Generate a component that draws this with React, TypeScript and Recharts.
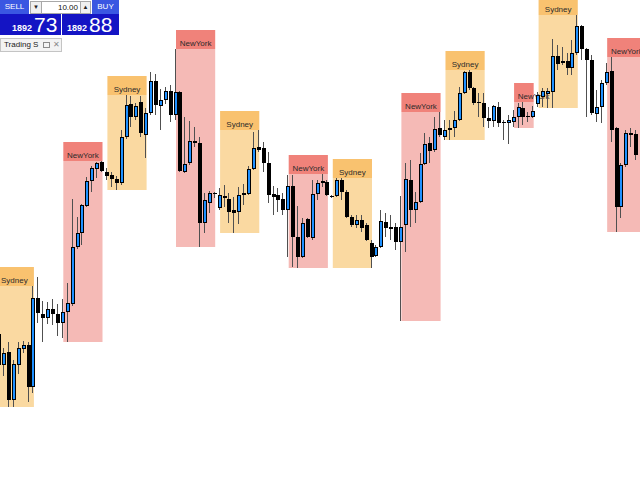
import React from "react";
import { Bar, ComposedChart, ReferenceArea, XAxis, YAxis } from "recharts";

// price levels read off the picture, measured down from the top of the pane
// (the y axis is reversed, so a smaller number is a higher price)
const open = [
  334, 365, 352, 400, 365, 349, 345, 387, 298, 314, 318, 309, 314, 323, 312, 304, 247, 233, 206, 181,
  169, 162, 172, 175, 179, 183, 137, 104, 117, 102, 135, 113, 81, 106, 100, 91, 115, 92, 172, 163,
  141, 143, 223, 203, 193, 208, 196, 199, 210, 212, 195, 194, 169, 147, 148, 163, 194, 195, 199, 210,
  186, 237, 257, 219, 238, 194, 183, 182, 197, 196, 180, 192, 217, 225, 220, 225, 243, 256, 247, 222,
  229, 227, 242, 225, 180, 210, 202, 164, 143, 150, 128, 137, 128, 128, 120, 93, 72, 88, 102, 103,
  118, 121, 107, 123, 123, 122, 117, 108, 116, 117, 104, 97, 94, 92, 56, 63, 61, 68, 53, 26,
  49, 60, 114, 107, 83, 71, 128, 207, 165, 133, 134,
];
const high = [
  328, 348, 342, 360, 342, 341, 342, 286, 277, 301, 302, 299, 304, 299, 283, 199, 217, 204, 177, 166,
  162, 161, 168, 172, 176, 130, 95, 96, 103, 96, 108, 72, 74, 89, 87, 85, 49, 91, 117, 121,
  127, 137, 193, 191, 192, 188, 185, 193, 197, 187, 184, 166, 132, 130, 142, 152, 186, 188, 193, 175,
  175, 206, 218, 218, 180, 180, 174, 180, 195, 178, 178, 190, 215, 215, 215, 223, 240, 245, 210, 213,
  215, 223, 196, 163, 160, 192, 153, 133, 137, 117, 112, 120, 120, 111, 87, 71, 70, 87, 93, 93,
  107, 105, 102, 120, 115, 110, 103, 102, 112, 106, 92, 88, 88, 39, 45, 47, 53, 40, 15, 25,
  48, 55, 90, 80, 63, 57, 127, 163, 130, 128, 130,
];
const low = [
  372, 376, 407, 407, 374, 353, 402, 393, 323, 342, 324, 325, 336, 338, 342, 306, 249, 245, 207, 192,
  178, 172, 180, 187, 190, 185, 139, 127, 120, 137, 158, 115, 115, 130, 104, 122, 120, 172, 173, 165,
  147, 247, 233, 213, 198, 210, 207, 223, 233, 224, 205, 195, 170, 152, 172, 203, 215, 212, 215, 257,
  267, 268, 258, 238, 240, 200, 187, 196, 198, 197, 200, 218, 227, 228, 232, 241, 268, 257, 248, 237,
  240, 250, 321, 252, 227, 223, 203, 165, 163, 152, 137, 140, 140, 137, 121, 94, 90, 105, 117, 127,
  128, 127, 127, 140, 144, 127, 128, 125, 122, 118, 107, 107, 108, 108, 70, 65, 75, 75, 55, 60,
  117, 115, 122, 123, 85, 142, 232, 218, 167, 147, 160,
];
const close = [
  365, 353, 400, 364, 348, 345, 387, 298, 313, 318, 309, 314, 323, 312, 303, 247, 233, 205, 181, 168,
  163, 171, 176, 179, 183, 137, 105, 117, 106, 133, 113, 81, 105, 100, 91, 115, 92, 171, 164, 141,
  143, 223, 200, 193, 194, 195, 198, 212, 213, 195, 193, 169, 148, 150, 163, 195, 197, 200, 210, 186,
  237, 257, 223, 237, 194, 183, 181, 195, 196, 180, 192, 217, 225, 220, 228, 240, 257, 247, 221, 228,
  227, 242, 227, 179, 210, 202, 164, 144, 151, 129, 135, 130, 130, 120, 93, 72, 88, 103, 103, 118,
  121, 106, 123, 122, 120, 117, 107, 117, 117, 111, 95, 91, 91, 56, 64, 61, 68, 53, 26, 49,
  60, 113, 107, 83, 72, 130, 207, 165, 133, 135, 155,
];

const sessionNames = [
  "Sydney", "NewYork", "Sydney", "NewYork", "Sydney", "NewYork",
  "Sydney", "NewYork", "Sydney", "NewYork", "Sydney", "NewYork",
];
const sessionStart = [-1, 13, 22, 36, 45, 59, 68, 82, 91, 105, 110, 124];
const sessionEnd = [7, 21, 30, 44, 53, 67, 76, 90, 99, 109, 118, 132];

const candles = open.map((o, i) => ({
  i,
  open: o,
  high: high[i],
  low: low[i],
  close: close[i],
}));

const sessions = sessionNames.map((name, k) => {
  const from = Math.max(0, sessionStart[k]);
  const to = Math.min(candles.length - 1, sessionEnd[k]);
  const part = candles.slice(from, to + 1);
  return {
    name,
    start: sessionStart[k],
    end: sessionEnd[k],
    top: Math.min(...part.map((c) => c.high)),
    bottom: Math.max(...part.map((c) => c.low)),
  };
});

const colors: Record<string, { head: string; body: string }> = {
  Sydney: { head: "#f9c26f", body: "#fad9a1" },
  NewYork: { head: "#f0827a", body: "#f5bab6" },
};

const HEADER = 19;

const Candle = (props: any) => {
  const { x, y, width, height, payload } = props;
  const top = Math.min(y, y + height);
  const bottom = Math.max(y, y + height);
  const span = payload.low - payload.high;
  const at = (v: number) =>
    span === 0 ? top : top + ((v - payload.high) / span) * (bottom - top);
  const r = Math.round(x + width / 2);
  const up = payload.close < payload.open;
  const b1 = at(Math.min(payload.open, payload.close));
  const b2 = at(Math.max(payload.open, payload.close));
  const bh = Math.max(b2 - b1, 1);
  return (
    <g>
      <line x1={r - 0.5} x2={r - 0.5} y1={top} y2={bottom} stroke="#505050" strokeWidth={1} />
      <rect x={r - 2} y={b1} width={4} height={bh} fill="#000" />
      {up && bh > 2 && (
        <rect x={r - 1} y={b1 + 1} width={2} height={bh - 2} fill="#1e90ff" />
      )}
    </g>
  );
};

const SessionBox = (props: any) => {
  const { x, y, width, height, name } = props;
  const top = Math.min(y, y + height);
  const h = Math.abs(height);
  const c = colors[name];
  return (
    <g>
      <rect x={x} y={top - HEADER} width={width} height={HEADER} fill={c.head} />
      <rect x={x} y={top} width={width} height={h} fill={c.body} />
    </g>
  );
};

const SessionLabel = (props: any) => {
  const { x, y, width, height, name, bars } = props;
  const top = Math.min(y, y + height);
  const perBar = width / bars;
  return (
    <text
      x={x + perBar * 4}
      y={top - 3.5}
      textAnchor="middle"
      fontFamily="'Liberation Sans', Arial, sans-serif"
      fontSize={8}
      fill="#2b2b2b"
    >
      {name}
    </text>
  );
};

const font = "'Liberation Sans', Arial, sans-serif";

const TradePanel = () => (
  <div style={{ position: "absolute", left: 0, top: 0, fontFamily: font, zIndex: 2 }}>
    <div style={{ position: "absolute", left: 0, top: 0, width: 29, height: 14, background: "#3a57e2", color: "#fff", fontSize: 8, lineHeight: "14px", textAlign: "center" }}>SELL</div>
    <div style={{ position: "absolute", left: 30, top: 1, width: 10, height: 11, background: "#f0f0f0", border: "1px solid #a8a8a8", fontSize: 6, lineHeight: "11px", textAlign: "center", color: "#222" }}>▼</div>
    <div style={{ position: "absolute", left: 41, top: 1, width: 36, height: 11, background: "#fff", border: "1px solid #a8a8a8", fontSize: 8, lineHeight: "11px", textAlign: "right", paddingRight: 3, color: "#111" }}>10.00</div>
    <div style={{ position: "absolute", left: 80, top: 1, width: 9, height: 11, background: "#f0f0f0", border: "1px solid #a8a8a8", fontSize: 6, lineHeight: "11px", textAlign: "center", color: "#222" }}>▲</div>
    <div style={{ position: "absolute", left: 92, top: 0, width: 27, height: 14, background: "#3a57e2", color: "#fff", fontSize: 8, lineHeight: "14px", textAlign: "center" }}>BUY</div>
    <div style={{ position: "absolute", left: 0, top: 14, width: 61, height: 21, background: "#1414c4", color: "#fff" }}>
      <span style={{ position: "absolute", left: 12, top: 9, fontSize: 9, fontWeight: "bold" }}>1892</span>
      <span style={{ position: "absolute", left: 34, top: -1, fontSize: 21 }}>73</span>
    </div>
    <div style={{ position: "absolute", left: 62, top: 14, width: 57, height: 21, background: "#1414c4", color: "#fff" }}>
      <span style={{ position: "absolute", left: 5, top: 9, fontSize: 9, fontWeight: "bold" }}>1892</span>
      <span style={{ position: "absolute", left: 27, top: -1, fontSize: 21 }}>88</span>
    </div>
    <div style={{ position: "absolute", left: 0, top: 38, width: 60, height: 12, background: "#f3f3f3", border: "1px solid #c4c4c4" }}>
      <span style={{ position: "absolute", left: 3, top: 0, fontSize: 8, lineHeight: "12px", color: "#1a1a1a", whiteSpace: "nowrap" }}>Trading S</span>
      <span style={{ position: "absolute", left: 42, top: 3, width: 5, height: 4, border: "1px solid #8a8a8a" }} />
      <span style={{ position: "absolute", left: 52, top: 0, fontSize: 8, lineHeight: "12px", color: "#8a8a8a" }}>✕</span>
    </div>
  </div>
);

export default function App() {
  return (
    <div style={{ position: "absolute", left: 0, top: 0, width: 640, height: 480, background: "#fff" }}>
      <ComposedChart
        width={640}
        height={480}
        data={candles}
        margin={{ top: 0, right: 0, bottom: 0, left: 0 }}
      >
        <XAxis dataKey="i" type="number" domain={[0.08, 130.7]} allowDataOverflow hide />
        <YAxis type="number" domain={[0, 480]} reversed allowDataOverflow hide />
        {sessions.map((s, k) => (
          <ReferenceArea
            key={"box" + k}
            x1={s.start}
            x2={s.end}
            y1={s.top}
            y2={s.bottom}
            ifOverflow="visible"
            shape={(p: any) => <SessionBox {...p} name={s.name} />}
          />
        ))}
        {sessions.map((s, k) => (
          <ReferenceArea
            key={"lbl" + k}
            x1={s.start}
            x2={s.end}
            y1={s.top}
            y2={s.bottom}
            ifOverflow="visible"
            shape={(p: any) => (
              <SessionLabel {...p} name={s.name} bars={s.end - s.start} />
            )}
          />
        ))}
        <Bar
          dataKey={(d: any) => [d.low, d.high]}
          barSize={4}
          isAnimationActive={false}
          shape={(p: any) => <Candle {...p} />}
        />
      </ComposedChart>
      <TradePanel />
    </div>
  );
}
